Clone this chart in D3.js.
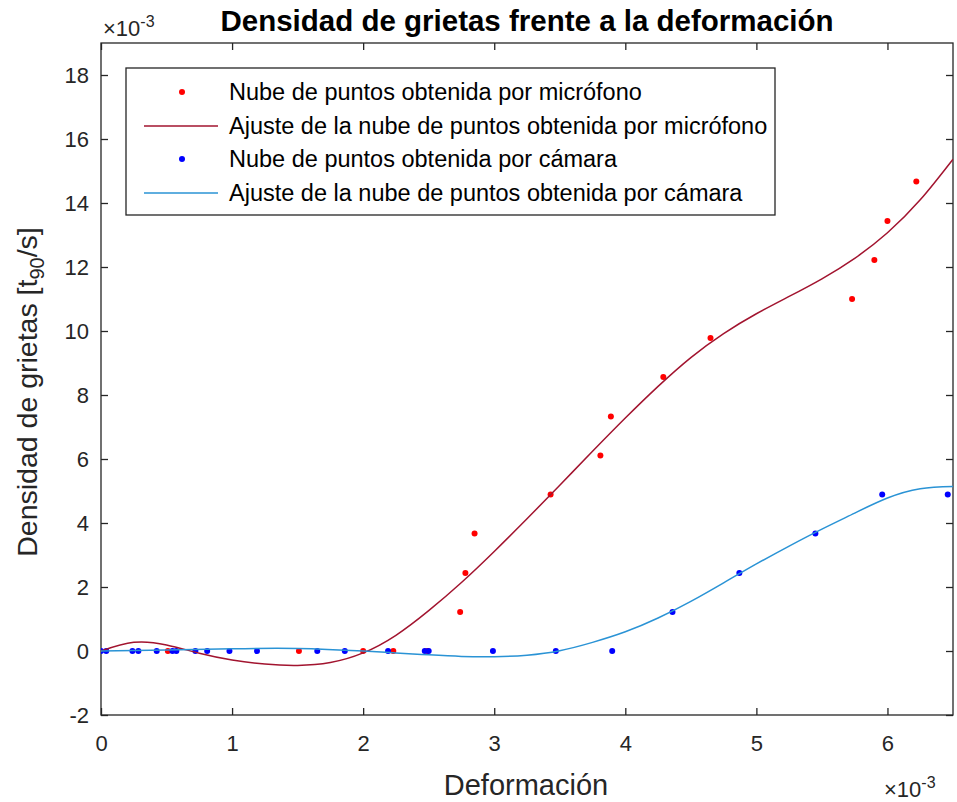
<!DOCTYPE html>
<html>
<head>
<meta charset="utf-8">
<script src="https://cdn.jsdelivr.net/npm/d3@7"></script>
<style>
  html, body { margin: 0; padding: 0; background: #ffffff; }
  svg { display: block; font-family: "Liberation Sans", Arial, Helvetica, sans-serif; }
</style>
</head>
<body>
<svg id="chart" width="957" height="802"></svg>
<script>
// Deformation values (x 1e-3) and crack density (x 1e-3) — microphone cloud
const micX = [0.51, 1.51, 2.0, 2.23, 2.49, 2.74, 2.78, 2.85, 3.43, 3.81, 3.89, 4.29, 4.65, 5.73, 5.90, 6.00, 6.22];
const micY = [0, 0, 0, 0, 0, 1.22, 2.44, 3.67, 4.89, 6.11, 7.33, 8.56, 9.78, 11.0, 12.22, 13.44, 14.67];

// Camera cloud
const camX = [0.0, 0.04, 0.24, 0.285, 0.425, 0.545, 0.575, 0.72, 0.81, 0.98, 1.19, 1.65, 1.86, 2.19, 2.47, 2.5, 2.99, 3.47, 3.9, 4.36, 4.87, 5.45, 5.96, 6.46];
const camY = [0, 0, 0, 0, 0, 0, 0, 0, 0, 0, 0, 0, 0, 0, 0, 0, 0, 0, 0, 1.22, 2.44, 3.67, 4.89, 4.89];

// Fitted curve for the microphone cloud, sampled along x
const micFitX = [0, 0.25, 0.5, 0.75, 1.0, 1.25, 1.5, 1.75, 2.0, 2.25, 2.5, 2.75, 3.0, 3.25, 3.5, 3.75, 4.0, 4.25, 4.5, 4.75, 5.0, 5.25, 5.5, 5.75, 6.0, 6.25, 6.5];
const micFitY = [0.00, 0.27, 0.19, -0.07, -0.28, -0.41, -0.45, -0.36, -0.06, 0.49, 1.26, 2.14, 3.11, 4.13, 5.18, 6.24, 7.28, 8.27, 9.17, 9.92, 10.54, 11.08, 11.63, 12.27, 13.07, 14.10, 15.37];

// Fitted curve for the camera cloud, sampled along x
const camFitX = [0, 0.5, 1.0, 1.5, 2.0, 2.25, 2.5, 2.75, 3.0, 3.25, 3.5, 3.75, 4.0, 4.25, 4.5, 4.75, 5.0, 5.25, 5.5, 5.75, 6.0, 6.25, 6.5];
const camFitY = [0.00, 0.03, 0.07, 0.08, 0.00, -0.06, -0.12, -0.17, -0.18, -0.13, 0.01, 0.27, 0.60, 1.03, 1.55, 2.13, 2.72, 3.28, 3.81, 4.31, 4.78, 5.07, 5.14];

const xTicks = [0, 1, 2, 3, 4, 5, 6];
const yTicks = [-2, 0, 2, 4, 6, 8, 10, 12, 14, 16, 18];

const legendLabels = [
  "Nube de puntos obtenida por micrófono",
  "Ajuste de la nube de puntos obtenida por micrófono",
  "Nube de puntos obtenida por cámara",
  "Ajuste de la nube de puntos obtenida por cámara"
];

const axisColor = "#262626";
const micDot = "#ff0000", micLine = "#a2142f";
const camDot = "#0000ff", camLine = "#2a93d5";

const svg = d3.select("#chart");
const L = 101, R = 953, T = 43, B = 715;

const x = d3.scaleLinear().domain([0, 6.5]).range([L, R]);
const y = d3.scaleLinear().domain([-2, 19]).range([B, T]);

// Plain hyphen for negative tick labels
const fmt = d => String(d);

// Axes with inward ticks on all four sides
const tickLen = 7;
const gx = svg.append("g").attr("transform", `translate(0,${B})`)
  .call(d3.axisBottom(x).tickValues(xTicks).tickSizeInner(-tickLen).tickSizeOuter(0).tickPadding(20).tickFormat(fmt));
const gxTop = svg.append("g").attr("transform", `translate(0,${T})`)
  .call(d3.axisTop(x).tickValues(xTicks).tickSizeInner(-tickLen).tickSizeOuter(0).tickFormat(""));
const gy = svg.append("g").attr("transform", `translate(${L},0)`)
  .call(d3.axisLeft(y).tickValues(yTicks).tickSizeInner(-tickLen).tickSizeOuter(0).tickPadding(12).tickFormat(fmt));
const gyR = svg.append("g").attr("transform", `translate(${R},0)`)
  .call(d3.axisRight(y).tickValues(yTicks).tickSizeInner(-tickLen).tickSizeOuter(0).tickFormat(""));

[gx, gxTop, gy, gyR].forEach(g => {
  g.select(".domain").remove();
  g.selectAll(".tick line").attr("stroke", axisColor).attr("stroke-width", 1.3);
  g.selectAll(".tick text").attr("fill", axisColor).style("font-size", "22px")
    .style("font-family", "'Liberation Sans', Arial, sans-serif");
});

// Plot box
svg.append("rect").attr("x", L).attr("y", T).attr("width", R - L).attr("height", B - T)
  .attr("fill", "none").attr("stroke", axisColor).attr("stroke-width", 1.3);

// Fitted curves (smooth cubic spline through the sampled fit)
const lineGen = d3.line().x(d => x(d[0])).y(d => y(d[1])).curve(d3.curveNatural);
const micFit = micFitX.map((v, i) => [v, micFitY[i]]);
const camFit = camFitX.map((v, i) => [v, camFitY[i]]);

svg.append("clipPath").attr("id", "plotclip")
  .append("rect").attr("x", L).attr("y", T).attr("width", R - L).attr("height", B - T);
const plot = svg.append("g").attr("clip-path", "url(#plotclip)");

// Points
plot.selectAll("circle.mic").data(micX.map((v, i) => [v, micY[i]])).join("circle")
  .attr("class", "mic").attr("cx", d => x(d[0])).attr("cy", d => y(d[1])).attr("r", 3).attr("fill", micDot);
plot.selectAll("circle.cam").data(camX.map((v, i) => [v, camY[i]])).join("circle")
  .attr("class", "cam").attr("cx", d => x(d[0])).attr("cy", d => y(d[1])).attr("r", 3).attr("fill", camDot);

plot.append("path").datum(micFit).attr("d", lineGen).attr("fill", "none").attr("stroke", micLine).attr("stroke-width", 1.5);
plot.append("path").datum(camFit).attr("d", lineGen).attr("fill", "none").attr("stroke", camLine).attr("stroke-width", 1.5);

// Exponent labels
function exponent(xp, yp) {
  const t = svg.append("text").attr("x", xp).attr("y", yp).attr("fill", axisColor).style("font-size", "22px");
  t.append("tspan").text("×10");
  t.append("tspan").attr("dy", -9).style("font-size", "16px").text("-3");
}
exponent(103, 36);
exponent(884, 797);

// Title
svg.append("text").attr("x", (L + R) / 2).attr("y", 31).attr("text-anchor", "middle")
  .attr("fill", "#000").style("font-size", "29.5px").style("font-weight", "bold")
  .text("Densidad de grietas frente a la deformación");

// Axis labels
svg.append("text").attr("x", 526).attr("y", 795).attr("text-anchor", "middle")
  .attr("fill", axisColor).style("font-size", "29px").text("Deformación");

const yl = svg.append("text").attr("transform", `translate(37,${(T + B) / 2 + 13}) rotate(-90)`)
  .attr("text-anchor", "middle").attr("fill", axisColor).style("font-size", "28.5px");
yl.append("tspan").text("Densidad de grietas [t");
yl.append("tspan").attr("dy", 7).style("font-size", "20px").text("90");
yl.append("tspan").attr("dy", -7).text("/s]");

// Legend
const lg = svg.append("g");
lg.append("rect").attr("x", 126).attr("y", 68).attr("width", 649).attr("height", 147)
  .attr("fill", "#fff").attr("stroke", axisColor).attr("stroke-width", 1.3);
const rowY = [92, 126, 159, 193];
const kinds = [["dot", micDot], ["line", micLine], ["dot", camDot], ["line", camLine]];
kinds.forEach((k, i) => {
  if (k[0] === "dot") {
    lg.append("circle").attr("cx", 182).attr("cy", rowY[i]).attr("r", 3).attr("fill", k[1]);
  } else {
    lg.append("line").attr("x1", 144).attr("x2", 218).attr("y1", rowY[i]).attr("y2", rowY[i])
      .attr("stroke", k[1]).attr("stroke-width", 1.5);
  }
  lg.append("text").attr("x", 229).attr("y", rowY[i] + 8).attr("fill", "#000")
    .style("font-size", "23.5px").text(legendLabels[i]);
});
</script>
</body>
</html>
